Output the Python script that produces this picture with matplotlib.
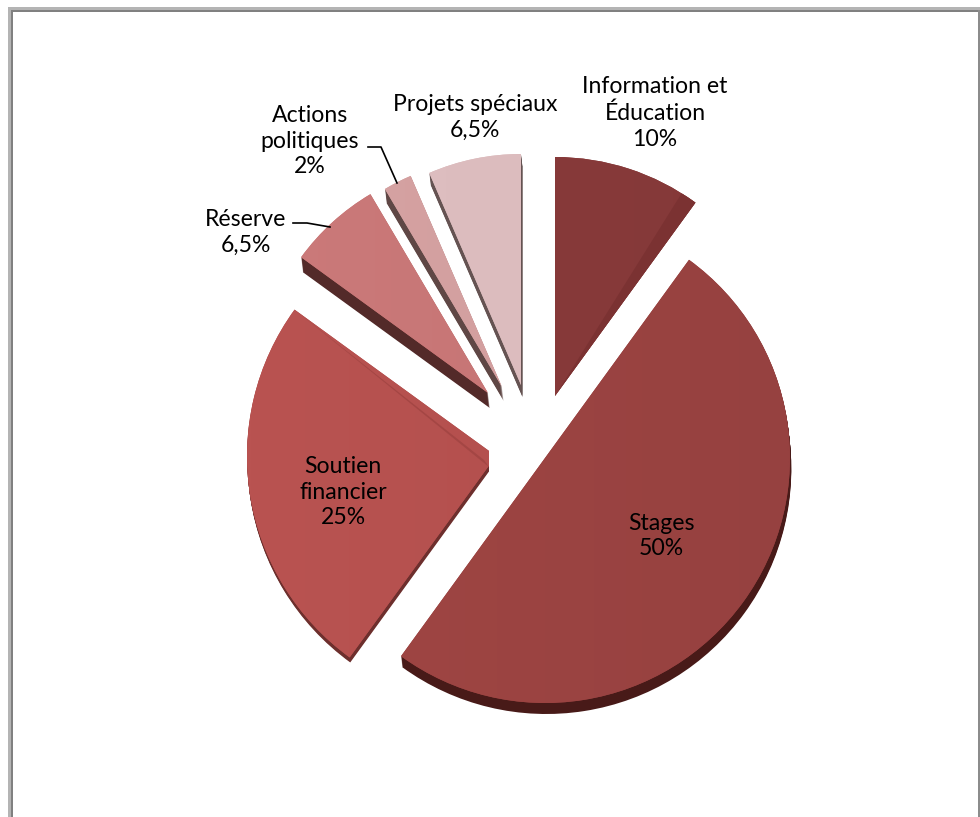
import numpy as np
import matplotlib
matplotlib.use("Agg")
import matplotlib.pyplot as plt
from matplotlib.patches import Wedge, Rectangle, Polygon
from matplotlib.colors import to_rgb

W, H = 980, 817

# data
categories = ["Information et\nÉducation", "Stages", "Soutien\nfinancier", "Réserve", "Actions\npolitiques", "Projets spéciaux"]
values = [10, 50, 25, 6.5, 2, 6.5]
value_labels = ["10%", "50%", "25%", "6,5%", "2%", "6,5%"]

# layout & style (pixel coordinates from top-left)
tips = [(555, 396), (545, 458), (496, 456), (488, 393), (502, 387), (521, 385)]
radii = [239, 245, 249, 231, 230, 231]
depths = [0, 11, 5, 15, 14, 12]
left_cols = ["#8a3c3c", "#a04643", "#b95351", "#cb7a7a", "#d5a3a3", "#debfc1"]
right_cols = ["#843838", "#964140", "#b04e4c", "#c47272", "#d29c9c", "#dbb9bb"]
shadow_cols = ["#5a2424", "#481a18", "#6d2f2d", "#532a29", "#5f4745", "#655352"]
label_pos = [(655, 113), (661, 536), (343, 492), (246, 232), (310, 141), (475, 117)]
FS = 16.6

plt.rcParams["font.family"] = ["Lato", "DejaVu Sans"]
fig = plt.figure(figsize=(W / 100, H / 100), dpi=100)
ax = fig.add_axes([0, 0, 1, 1])


def Y(py):
    return H - py


wedges, _ = ax.pie(values, startangle=90, counterclock=False, radius=200,
                   center=(500, 400), wedgeprops=dict(linewidth=0), normalize=True)
ax.set_aspect("auto")
ax.set_xlim(0, W)
ax.set_ylim(0, H)
ax.axis("off")

for i, w in enumerate(wedges):
    cx, cy = tips[i]
    r = radii[i]
    w.set_center((cx, Y(cy)))
    w.set_radius(r)
    w.set_facecolor(right_cols[i])
    w.set_zorder(10 + i * 3)
    # extruded side
    for d in range(depths[i], 0, -1):
        ax.add_patch(Wedge((cx + 0.12 * d, Y(cy) - d), r, w.theta1, w.theta2,
                           fc=shadow_cols[i], ec="none", zorder=9 + i * 3))
    # soft horizontal gradient on the face
    grad = np.linspace(0, 1, 64)[None, :, None]
    img = (1 - grad) * np.array(to_rgb(left_cols[i])) + grad * np.array(to_rgb(right_cols[i]))
    im = ax.imshow(img, extent=(cx - r, cx + r, Y(cy) - r, Y(cy) + r), aspect="auto",
                   interpolation="bilinear", zorder=10 + i * 3, origin="upper")
    im.set_clip_path(w)

ax.set_xlim(0, W)
ax.set_ylim(0, H)

# bevel along the clockwise edge of "Information et Éducation"
w = wedges[0]
ax.add_patch(Wedge(w.center, w.r, w.theta1, w.theta1 + 4, fc="#7b3232", ec="none", zorder=11))

# bevel and blunt tip of "Soutien financier"
w = wedges[2]
a = np.deg2rad(w.theta1)
cx, cy = w.center
outer = (cx + w.r * np.cos(a), cy + w.r * np.sin(a))
ax.add_patch(Polygon([(cx - 7, cy - 11), outer, (cx - 12, cy - 4)], closed=True,
                     fc="#a44644", ec="none", zorder=17))
ax.add_patch(Rectangle((489, Y(480)), 14, 40, fc="white", ec="none", zorder=18))

# labels
for name, val, (x, y) in zip(categories, value_labels, label_pos):
    ax.text(x, Y(y), f"{name}\n{val}", ha="center", va="center", fontsize=FS,
            linespacing=1.28, color="black", zorder=40)

# leader lines
ax.plot([368, 381, 397], [Y(147), Y(147), Y(183)], color="black", lw=1.2, zorder=40)
ax.plot([293, 307, 330], [Y(223), Y(223), Y(227)], color="black", lw=1.2, zorder=40)

# outer frame
for (x, y, wd, ht, c) in [(8, 7, 2.5, 810, "#b4b4b4"), (10.5, 10, 2.5, 807, "#808080"),
                          (8, 7, 972, 2.5, "#b4b4b4"), (10.5, 9.5, 970, 2.5, "#808080"),
                          (978, 10, 2, 807, "#8c8c8c")]:
    ax.add_patch(Rectangle((x, Y(y + ht)), wd, ht, fc=c, ec="none", zorder=50))

fig.savefig("out.png", dpi=100, facecolor="white")
